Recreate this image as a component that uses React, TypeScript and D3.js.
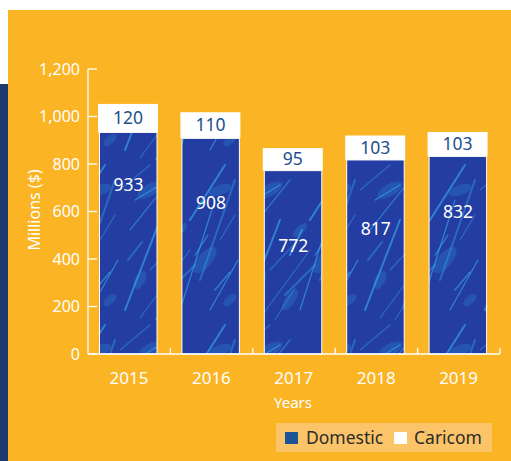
import React from "react";
import * as d3 from "d3";

const years = ["2015", "2016", "2017", "2018", "2019"];
const domestic = [933, 908, 772, 817, 832];
const caricom = [120, 110, 95, 103, 103];
const domesticLabelAt = [712, 636, 455, 526, 598];
const yTicks = [0, 200, 400, 600, 800, 1000, 1200];
const legendItems = ["Domestic", "Caricom"];

const W = 511;
const H = 461;
const FONT = "'Noto Sans', 'Open Sans', sans-serif";

const streaks = [
  "M5,150 L40,60", "M20,158 L70,90", "M60,150 L95,40", "M80,120 L115,20",
  "M10,70 L50,20", "M30,110 L58,80", "M70,60 L105,5",
  "M0,30 L30,5", "M90,150 L118,100", "M45,135 L75,105",
  "M15,40 L40,25", "M100,80 L115,55", "M50,95 L62,70", "M35,160 L55,128",
  "M75,95 L88,75", "M8,100 L22,82", "M95,130 L110,112",
];
const blobs = [
  [30, 30, 14, 6, -30], [85, 100, 16, 7, -50], [20, 120, 10, 5, -60], [100, 30, 12, 5, -20], [60, 70, 9, 4, -45],
  [50, 140, 12, 5, -55], [110, 140, 8, 4, -40],
];

export default function App() {
  const x = d3.scaleBand<string>().domain(years).range([88, 500]).padding(0);
  const y = d3.scaleLinear().domain([0, 1200]).range([354, 69]);
  const barOff = 10;
  const barW = 60;
  const boundaries = years.map((yr) => (x(yr) as number) + x.step());

  return (
    <svg width={W} height={H} style={{ display: "block", position: "absolute", left: 0, top: 0 }}>
      <defs>
        <pattern id="tex" patternUnits="userSpaceOnUse" width={120} height={160}>
          <rect width={120} height={160} fill="#2538a0" />
          <rect width={120} height={160} fill="#1f4aa8" opacity={0.3} />
          {blobs.map((b, i) => (
            <ellipse key={i} cx={b[0]} cy={b[1]} rx={b[2]} ry={b[3]} transform={`rotate(${b[4]} ${b[0]} ${b[1]})`} fill="#2a6cc0" opacity={0.5} />
          ))}
          {streaks.map((d, i) => (
            <path key={i} d={d} stroke="#33a0e4" strokeWidth={i % 3 === 0 ? 2 : 1.2} fill="none" opacity={i % 2 === 0 ? 0.7 : 0.45} strokeLinecap="round" />
          ))}
        </pattern>
      </defs>
      <rect x={0} y={0} width={W} height={H} fill="#ffffff" />
      <rect x={8} y={10} width={W - 8} height={H - 10} fill="#fbb424" />
      <rect x={0} y={84} width={8} height={H - 84} fill="#1e3a6d" />

      {years.map((yr, i) => {
        const bx = (x(yr) as number) + barOff;
        const total = domestic[i] + caricom[i];
        return (
          <g key={yr}>
            <rect x={bx} y={y(total)} width={barW} height={y(domestic[i]) - y(total)} fill="#ffffff" />
            <rect x={bx + 1.5} y={y(domestic[i])} width={barW - 2.5} height={y(0) - y(domestic[i])} fill="url(#tex)" stroke="#ffffff" strokeWidth={1} />
            <text x={bx + barW / 2} y={(y(total) + y(domestic[i])) / 2 + 6} textAnchor="middle" fill="#1d4f8c" fontSize={17.5} fontFamily={FONT}>
              {caricom[i]}
            </text>
            <text x={bx + barW / 2 + 0.5} y={y(domesticLabelAt[i]) + 6} textAnchor="middle" fill="#ffffff" fontSize={17.5} fontFamily={FONT}>
              {domestic[i]}
            </text>
          </g>
        );
      })}

      <line x1={88} x2={88} y1={y(1200)} y2={y(0)} stroke="#ffffff" strokeWidth={1.3} />
      {yTicks.map((t) => (
        <g key={t}>
          <line x1={88} x2={97} y1={y(t)} y2={y(t)} stroke="#ffffff" strokeWidth={1.3} />
          <text x={80} y={y(t) + 5.5} textAnchor="end" fill="#ffffff" fontSize={16} fontFamily={FONT}>
            {d3.format(",")(t)}
          </text>
        </g>
      ))}
      <text transform={`translate(40,210) rotate(-90)`} textAnchor="middle" fill="#ffffff" fontSize={16} fontFamily={FONT}>
        Millions ($)
      </text>

      <line x1={88} x2={500} y1={y(0)} y2={y(0)} stroke="#ffffff" strokeWidth={1.3} />
      {boundaries.map((bx, i) => (
        <line key={i} x1={bx} x2={bx} y1={y(0)} y2={y(0) - 6} stroke="#ffffff" strokeWidth={1.3} />
      ))}
      {years.map((yr) => (
        <text key={yr} x={(x(yr) as number) + barOff + barW / 2 + 1} y={384} textAnchor="middle" fill="#ffffff" fontSize={17} fontFamily={FONT}>
          {yr}
        </text>
      ))}
      <text x={293} y={408} textAnchor="middle" fill="#ffffff" fontSize={15} fontFamily={FONT}>
        Years
      </text>

      <rect x={276} y={423} width={216} height={29} fill="#fcc468" />
      <rect x={285} y={432} width={13} height={12} fill="#1c5596" />
      <text x={306} y={444} fill="#2b2b2b" fontSize={17.5} fontFamily={FONT}>{legendItems[0]}</text>
      <rect x={394} y={432} width={13} height={12} fill="#ffffff" />
      <text x={414} y={444} fill="#2b2b2b" fontSize={17.5} fontFamily={FONT}>{legendItems[1]}</text>
    </svg>
  );
}
